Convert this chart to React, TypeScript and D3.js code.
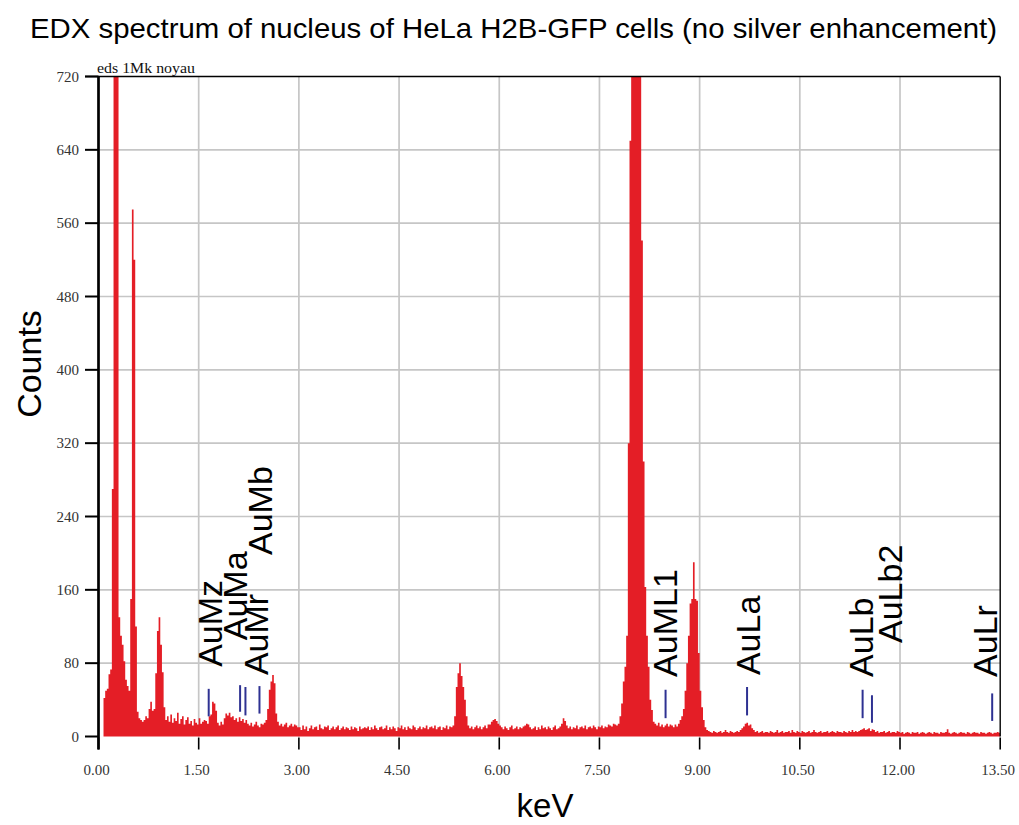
import React from "react";
import * as d3 from "d3";

// Spectrum: counts per 0.025 keV channel, one array per keV range
const BIN_KEV = 0.025;
const counts0to1 = [0,0,0,42,50,52,68,73,270,1100,1250,980,130,110,100,82,62,55,50,150,575,520,120,27,20,18,16,18,22,20,30,38,28,30,69,115,130,100,70,32];
const counts1to2 = [18,22,16,24,15,20,17,26,14,19,22,13,18,21,14,17,12,19,15,13,20,14,16,18,17,14,22,24,38,36,28,15,12,16,13,20,25,23,26,21];
const counts2to3 = [22,18,20,16,21,17,19,15,18,14,12,15,11,13,16,12,10,14,13,15,18,30,51,60,67,58,25,16,12,14,11,13,15,10,12,14,11,13,12,10];
const counts3to4 = [10,7,12,8,11,6,9,12,8,10,11,7,13,9,8,11,10,12,7,9,11,8,10,12,7,9,11,8,10,9,7,11,8,10,9,6,11,8,9,10];
const counts4to5 = [9,11,7,10,8,12,9,7,10,11,8,9,12,7,10,8,11,9,6,10,9,12,8,10,7,11,9,8,12,10,7,9,11,8,10,9,12,8,10,11];
const counts5to6 = [9,12,8,10,11,7,10,9,12,8,11,10,12,22,54,69,80,66,54,40,22,12,9,11,8,10,12,9,11,8,10,12,9,13,13,16,18,19,17,14];
const counts6to7 = [12,10,8,11,9,7,10,12,8,9,11,8,10,9,11,12,14,13,10,8,9,11,7,10,8,12,9,10,8,11,9,7,10,12,8,9,11,14,20,17];
const counts7to8 = [12,9,11,8,10,9,12,8,10,11,9,12,8,10,11,9,12,10,8,11,10,12,9,11,10,13,12,11,14,13,12,14,22,36,60,76,110,320,650,1000];
const counts8to9 = [1400,1500,1300,900,760,541,300,163,110,76,40,29,16,14,12,15,11,13,10,12,14,11,13,12,10,13,11,14,18,22,30,50,80,110,145,150,190,150,148,91];
const counts9to10 = [50,32,18,10,7,6,5,4,6,5,4,5,6,4,5,7,5,4,6,5,4,5,6,5,7,9,11,14,15,12,13,9,7,5,6,4,5,6,4,5];
const counts10to11 = [5,4,6,5,4,5,7,4,5,6,4,5,5,6,4,7,5,4,6,5,4,6,5,4,5,6,4,5,7,5,4,5,6,4,5,5,6,4,5,6];
const counts11to12 = [5,4,6,5,5,4,6,5,4,6,5,7,5,6,5,6,7,8,9,7,8,9,6,8,7,5,6,4,5,5,6,4,5,6,4,5,5,4,6,5];
const counts12to13p5 = [4,5,3,4,5,4,3,5,4,4,5,3,4,5,4,3,4,5,4,3,5,4,4,3,5,4,4,5,8,4,3,4,5,4,3,4,5,4,4,3,5,4,3,4,5,4,4,3,5,4,4,3,4,5,4,3,4,4,5,4];

// Axes
const xTicks = [0, 1.5, 3, 4.5, 6, 7.5, 9, 10.5, 12, 13.5];
const yTicks = [0, 80, 160, 240, 320, 400, 480, 560, 640, 720];

// Gold line markers (energy keV, top / bottom in counts)
const markerEnergies = [1.65, 2.12, 2.2, 2.41, 8.49, 9.71, 11.44, 11.58, 13.38];
const markerTop = [52, 56, 54, 55, 51, 54, 51, 45, 47];
const markerBottom = [22, 27, 23, 25, 20, 23, 20, 15, 17];

// Marker labels (text, anchor energy, anchor counts)
const labelTexts = ["AuMz", "AuMa", "AuMr", "AuMb", "AuML1", "AuLa", "AuLb", "AuLb2", "AuLr"];
const labelEnergies = [1.849, 2.223, 2.538, 2.597, 8.661, 9.904, 11.59, 12.026, 13.45];
const labelCounts = [76, 105, 67, 198, 65, 67, 65, 102, 65];

const SANS = "'Liberation Sans', Arial, Helvetica, sans-serif";
const SERIF = "'Liberation Serif', 'Times New Roman', Times, serif";

export default function App() {
  const W = 1019, H = 825;
  const x = d3.scaleLinear().domain([0, 13.5]).range([98.5, 1000.2]);
  const y = d3.scaleLinear().domain([0, 720]).range([736.5, 76.5]);

  const spectrum = ([] as number[]).concat(
    counts0to1, counts1to2, counts2to3, counts3to4, counts4to5, counts5to6,
    counts6to7, counts7to8, counts8to9, counts9to10, counts10to11, counts11to12, counts12to13p5
  );
  const pts = spectrum.map((c, i) => ({ e: i * BIN_KEV, c }));
  pts.push({ e: 13.5, c: spectrum[spectrum.length - 1] });

  const area = d3
    .area<{ e: number; c: number }>()
    .x((d) => x(d.e))
    .y0(y(0))
    .y1((d) => y(Math.min(d.c, 720)))
    .curve(d3.curveStepAfter);

  const fmt = d3.format(".2f");
  const x0 = x(0), x1 = x(13.5), yTop = y(720), yBot = y(0);

  return (
    <svg width={W} height={H} style={{ position: "absolute", left: 0, top: 0, background: "#fff" }}>
      <defs>
        <clipPath id="plotClip">
          <rect x={x0} y={yTop} width={x1 - x0} height={yBot - yTop + 1} />
        </clipPath>
      </defs>
      <rect x={0} y={0} width={W} height={H} fill="#fff" />

      {/* grid */}
      {yTicks.filter((t) => t > 0 && t < 720).map((t) => (
        <line key={"gy" + t} x1={x0} x2={x1} y1={y(t)} y2={y(t)} stroke="#c6c6c6" strokeWidth={1.7} />
      ))}
      {xTicks.filter((t) => t > 0 && t < 13.5).map((t) => (
        <line key={"gx" + t} x1={x(t)} x2={x(t)} y1={yTop} y2={yBot} stroke="#c6c6c6" strokeWidth={1.7} />
      ))}

      {/* spectrum */}
      <path d={area(pts) || ""} fill="#e41e26" clipPath="url(#plotClip)" />

      {/* markers */}
      {markerEnergies.map((e, i) => (
        <line key={"m" + i} x1={x(e)} x2={x(e)} y1={y(markerTop[i])} y2={y(markerBottom[i])} stroke="#2e3192" strokeWidth={2} />
      ))}

      {/* marker labels */}
      {labelTexts.map((t, i) => (
        <text
          key={"l" + i}
          transform={`translate(${x(labelEnergies[i])},${y(labelCounts[i])}) rotate(-90)`}
          fontFamily={SANS}
          fontSize={34}
          fill="#000"
        >
          {t}
        </text>
      ))}

      {/* frame */}
      <line x1={x0 - 13.5} x2={x1} y1={yTop} y2={yTop} stroke="#000" strokeWidth={1.6} />
      <line x1={x1} x2={x1} y1={yTop} y2={yBot} stroke="#000" strokeWidth={1.4} />
      <line x1={x0} x2={x0} y1={yTop} y2={yBot + 13} stroke="#000" strokeWidth={2.7} />

      {/* y ticks */}
      {yTicks.map((t) => (
        <g key={"yt" + t}>
          <line x1={x0 - 13.5} x2={x0} y1={y(t)} y2={y(t)} stroke="#000" strokeWidth={2} />
          <text x={79} y={y(t)} dy="0.35em" textAnchor="end" fontFamily={SERIF} fontSize={15} fill="#333">
            {t}
          </text>
        </g>
      ))}

      {/* x ticks */}
      {xTicks.map((t) => (
        <g key={"xt" + t}>
          <line x1={x(t)} x2={x(t)} y1={yBot + 1} y2={yBot + 13} stroke="#000" strokeWidth={1.6} />
          <text x={x(t) - 2} y={775} textAnchor="middle" fontFamily={SERIF} fontSize={15} fill="#333">
            {fmt(t)}
          </text>
        </g>
      ))}

      {/* small header */}
      <text x={97} y={73} fontFamily={SERIF} fontSize={14} textLength={98} lengthAdjust="spacingAndGlyphs" fill="#111">
        eds 1Mk noyau
      </text>

      {/* title */}
      <text x={30} y={38} fontFamily={SANS} fontSize={28} textLength={967} lengthAdjust="spacingAndGlyphs" fill="#000">
        EDX spectrum of nucleus of HeLa H2B-GFP cells (no silver enhancement)
      </text>

      {/* axis titles */}
      <text transform={`translate(41,364) rotate(-90)`} textAnchor="middle" fontFamily={SANS} fontSize={34} fill="#000">
        Counts
      </text>
      <text x={545} y={817} textAnchor="middle" fontFamily={SANS} fontSize={33} fill="#000">
        keV
      </text>
    </svg>
  );
}
